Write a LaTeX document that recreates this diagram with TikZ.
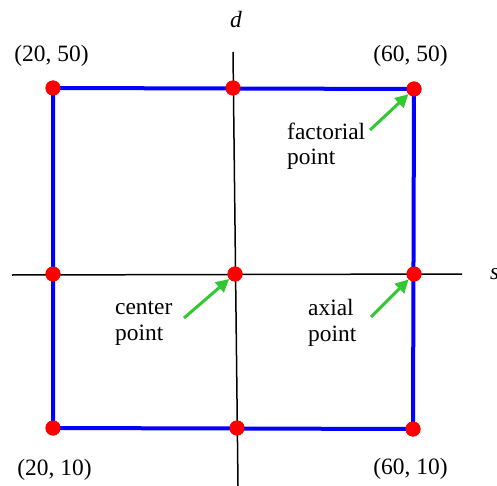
\documentclass[tikz,border=0pt]{standalone}
\usepackage{fontspec}
\setmainfont{Liberation Serif}
\usetikzlibrary{arrows.meta}
\definecolor{ptred}{RGB}{255,0,0}
\definecolor{sqblue}{RGB}{0,0,255}
\definecolor{arrgreen}{RGB}{50,200,50}
\begin{document}
\begin{tikzpicture}[x=1bp,y=-1bp,
  dot/.style={circle,fill=ptred,draw=none,minimum size=15bp,inner sep=0pt},
  axis/.style={draw=black,line width=1.5bp},
  square/.style={draw=sqblue,line width=4bp},
  pointer/.style={draw=arrgreen,line width=3bp,-{Triangle[length=13bp,width=13bp]}},
  lbl/.style={font=\fontsize{23.5}{26}\selectfont,inner sep=0pt},
  mlbl/.style={lbl,align=left,anchor=base west}]
\useasboundingbox (0,0) rectangle (497,486);
% axes ends
\coordinate (vtop) at (233,52);
\coordinate (vbot) at (238,486);
\coordinate (hleft) at (12,275);
\coordinate (hright) at (462,274);
\draw[axis] (vtop) -- (vbot);
\draw[axis] (hleft) -- (hright);
% points
\node[dot] (tl) at (53,88) {};
\node[dot] (tm) at (233,88) {};
\node[dot] (tr) at (414,89) {};
\node[dot] (ml) at (53,274) {};
\node[dot] (cc) at (235,274) {};
\node[dot] (mr) at (414,274) {};
\node[dot] (bl) at (53,428) {};
\node[dot] (bm) at (237,428) {};
\node[dot] (br) at (413,429) {};
\draw[square] (tl.center) -- (tr.center) -- (br.center) -- (bl.center) -- cycle;
\foreach \n in {tl,tm,tr,ml,cc,mr,bl,bm,br}{\fill[ptred] (\n.center) circle (7.5bp);}
% axis labels
\node[lbl,anchor=base] (dlab) at (236,28) {\itshape d};
\node[lbl,anchor=base west] (slab) at (490,279) {\itshape s};
% corner labels
\node[lbl,anchor=base] (l2050) at (51.5,62) {(20, 50)};
\node[lbl,anchor=base] (l6050) at (410.5,62) {(60, 50)};
\node[lbl,anchor=base] (l2010) at (54.5,475) {(20, 10)};
\node[lbl,anchor=base] (l6010) at (410.5,474) {(60, 10)};
% descriptive labels (base = last line)
\node[mlbl] (fact) at (287,165) {factorial\\point};
\node[mlbl] (cent) at (115,340) {center\\point};
\node[mlbl] (axl) at (308,341) {axial\\point};
% arrows
\coordinate (fs) at (370,130);
\coordinate (cs) at (184,318);
\coordinate (as) at (371,317);
\draw[pointer] (fs) -- (tr);
\draw[pointer] (cs) -- (cc);
\draw[pointer] (as) -- (mr);
\end{tikzpicture}
\end{document}
